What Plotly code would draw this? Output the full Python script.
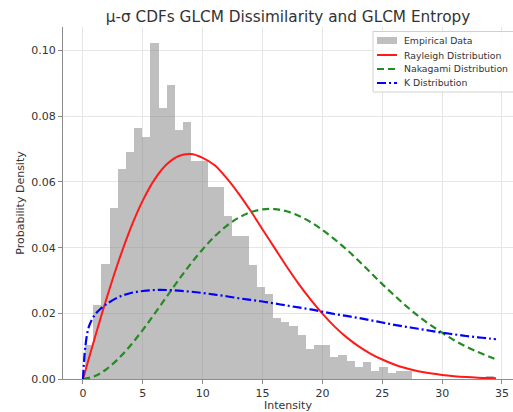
import numpy as np
import plotly.graph_objects as go

# Histogram of the empirical intensities (density-normalised, 50 equal bins)
hist_start = 0.17
hist_stop = 34.32
hist_density = [
    0.0104, 0.0226, 0.0350, 0.0520, 0.0640, 0.0690, 0.0765, 0.0738, 0.1023, 0.0826,
    0.0896, 0.0757, 0.0783, 0.0665, 0.0665, 0.0584, 0.0584, 0.0495, 0.0436, 0.0436,
    0.0348, 0.0280, 0.0260, 0.0185, 0.0175, 0.0160, 0.0135, 0.0090, 0.0105, 0.0104,
    0.0066, 0.0073, 0.0055, 0.0038, 0.0051, 0.0024, 0.0037, 0.0017, 0.0025, 0.0025,
    0.0, 0.0, 0.0, 0.0, 0.0, 0.0, 0.0, 0.0, 0.0, 0.0010,
]

# Fitted distribution curves, sampled along intensity
curve_x = [0, 1, 2, 3, 4, 5, 6, 7, 8, 9, 10, 11, 12, 13, 14, 15, 16, 17, 18, 19,
           20, 21, 22, 23, 24, 25, 26, 27, 28, 29, 30, 31, 32, 33, 34, 34.5]
rayleigh_pdf = [0.0, 0.01269, 0.02489, 0.03616, 0.04611, 0.05440, 0.06087, 0.06537,
                0.06790, 0.06853, 0.06736, 0.06508, 0.06117, 0.05648, 0.05122, 0.04554,
                0.03994, 0.03433, 0.02905, 0.02425, 0.01990, 0.01603, 0.01275, 0.01002,
                0.00776, 0.00593, 0.00443, 0.00328, 0.00239, 0.00172, 0.00122, 0.00086,
                0.00059, 0.00040, 0.00027, 0.00022]
nakagami_pdf = [0.0, 0.00090, 0.00311, 0.00634, 0.01036, 0.01498, 0.01997, 0.02512,
                0.03023, 0.03509, 0.03953, 0.04342, 0.04665, 0.04911, 0.05080, 0.05166,
                0.05174, 0.05107, 0.04973, 0.04782, 0.04540, 0.04259, 0.03950, 0.03610,
                0.03250, 0.02890, 0.02550, 0.02220, 0.01920, 0.01650, 0.01410, 0.01180,
                0.00990, 0.00820, 0.00670, 0.00600]
k_x = [0, 0.2, 0.5, 1, 1.5, 2, 3, 4, 5, 6, 7, 8, 9, 10, 11, 12, 13, 14, 15, 16, 17,
       18, 19, 20, 21, 22, 23, 24, 25, 26, 27, 28, 29, 30, 31, 32, 33, 34, 34.5]
k_pdf = [0.0, 0.0100, 0.0160, 0.0196, 0.0215, 0.0229, 0.0250, 0.0262, 0.0268, 0.0271,
         0.0271, 0.0269, 0.0266, 0.0262, 0.0257, 0.0252, 0.0246, 0.0241, 0.0236, 0.0230,
         0.0224, 0.0218, 0.0212, 0.0205, 0.0198, 0.0192, 0.0186, 0.0179, 0.0172, 0.0165,
         0.0159, 0.0153, 0.0147, 0.0141, 0.0136, 0.0131, 0.0127, 0.0123, 0.0121]

series_names = ["Empirical Data", "Rayleigh Distribution",
                "Nakagami Distribution", "K Distribution"]
x_ticks = [0, 5, 10, 15, 20, 25, 30, 35]
y_ticks = [0.00, 0.02, 0.04, 0.06, 0.08, 0.10]

# Styling
font = "DejaVu Sans"
text_color = "#333333"
bar_color = "rgba(128,128,128,0.5)"
red, green, blue = "#ff1a1a", "#228b22", "#0000ff"
green_dash, blue_dash = "7px,4px", "9px,3px,2px,3px"

W, H = 513, 412
M_L, M_R, M_T, M_B = 63, 0, 27, 33
plot_w, plot_h = W - M_L - M_R, H - M_T - M_B


def px_x(px):
    """Pixel column -> paper x."""
    return (px - M_L) / plot_w


def px_y(py):
    """Pixel row -> paper y."""
    return (H - M_B - py) / plot_h


edges = np.linspace(hist_start, hist_stop, len(hist_density) + 1)
centers = (edges[:-1] + edges[1:]) / 2
bin_w = edges[1] - edges[0]

fig = go.Figure()
fig.add_trace(go.Bar(
    x=centers, y=hist_density, width=bin_w,
    marker=dict(color=bar_color, line=dict(width=0)),
    name=series_names[0],
))
fig.add_trace(go.Scatter(
    x=curve_x, y=rayleigh_pdf, mode="lines", name=series_names[1],
    line=dict(color=red, width=2, shape="spline"),
))
fig.add_trace(go.Scatter(
    x=curve_x, y=nakagami_pdf, mode="lines", name=series_names[2],
    line=dict(color=green, width=2.2, dash=green_dash, shape="spline"),
))
fig.add_trace(go.Scatter(
    x=k_x, y=k_pdf, mode="lines", name=series_names[3],
    line=dict(color=blue, width=2.2, dash=blue_dash, shape="spline"),
))

# Compact legend box in the upper-right corner
shapes = [dict(
    type="rect", xref="paper", yref="paper", layer="above",
    x0=px_x(373), x1=px_x(530), y0=px_y(92), y1=px_y(31.5),
    fillcolor="rgba(255,255,255,0.85)", line=dict(color="#d0d0d0", width=1),
)]
row_y = [40.5, 55, 69, 83]
hx0, hx1 = 377, 397
shapes.append(dict(
    type="rect", xref="paper", yref="paper", layer="above",
    x0=px_x(hx0), x1=px_x(hx1), y0=px_y(row_y[0] + 3.5), y1=px_y(row_y[0] - 3.5),
    fillcolor=bar_color, line=dict(width=0),
))
for yy, col, dash, lw in [(row_y[1], red, "solid", 2),
                          (row_y[2], green, green_dash, 2.2),
                          (row_y[3], blue, blue_dash, 2.2)]:
    shapes.append(dict(
        type="line", xref="paper", yref="paper", layer="above",
        x0=px_x(hx0), x1=px_x(hx1), y0=px_y(yy), y1=px_y(yy),
        line=dict(color=col, width=lw, dash=dash),
    ))
annotations = [dict(
    text=name, xref="paper", yref="paper", x=px_x(402), y=px_y(yy),
    xanchor="left", yanchor="middle", showarrow=False,
    font=dict(family=font, size=9.3, color=text_color),
) for name, yy in zip(series_names, row_y)]

axis_common = dict(
    showgrid=True, gridcolor="#e6e6e6", gridwidth=1,
    showline=True, linecolor="#8c8c8c", linewidth=1.3,
    ticks="outside", ticklen=4, tickcolor="#8c8c8c",
    tickfont=dict(family=font, size=11, color=text_color),
    zeroline=False,
)

fig.update_layout(
    width=W, height=H,
    margin=dict(l=M_L, r=M_R, t=M_T, b=M_B, autoexpand=False),
    paper_bgcolor="white", plot_bgcolor="white",
    bargap=0,
    showlegend=False,
    shapes=shapes,
    annotations=annotations,
    title=dict(
        text="μ-σ CDFs GLCM Dissimilarity and GLCM Entropy",
        font=dict(family=font, size=15.3, color=text_color),
        x=0.5, xref="paper", xanchor="center",
        y=1 - 16.5 / H, yref="container", yanchor="middle",
    ),
    xaxis=dict(
        range=[-1.67, 35.92], tickvals=x_ticks,
        title=dict(text="Intensity", font=dict(family=font, size=11, color=text_color),
                   standoff=1),
        **axis_common,
    ),
    yaxis=dict(
        range=[0, 0.1072], tickvals=y_ticks, tickformat=".2f",
        title=dict(text="Probability Density",
                   font=dict(family=font, size=11, color=text_color), standoff=4),
        **axis_common,
    ),
)

fig.write_html("out.html")
